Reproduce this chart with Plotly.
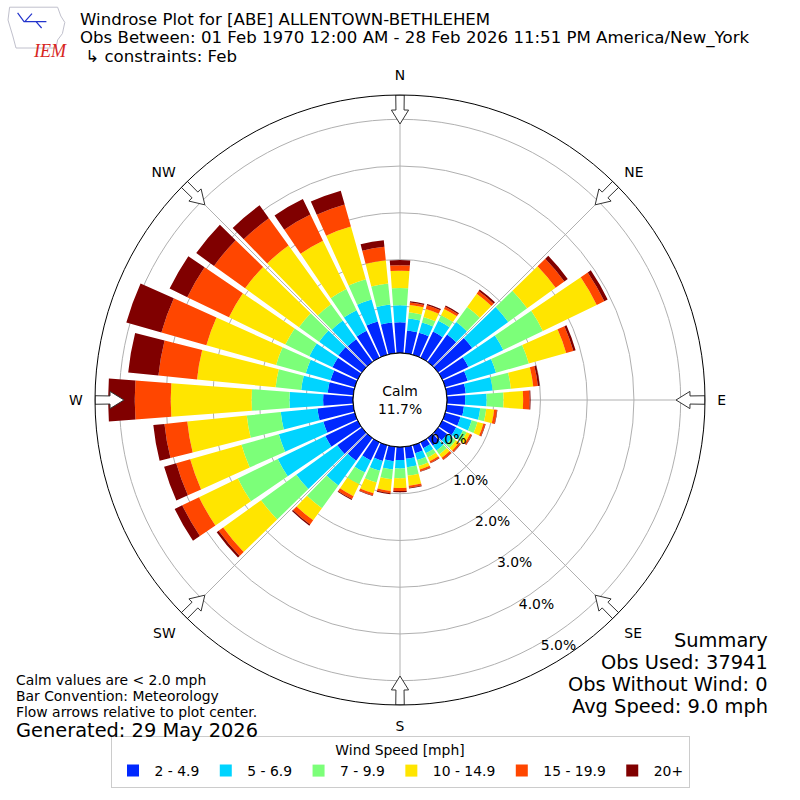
import plotly.graph_objects as go

# wind directions (deg, meteorological) and speed bins
directions = list(range(0, 360, 10))
compass_vals = [0, 45, 90, 135, 180, 225, 270, 315]
compass_text = ["N", "NE", "E", "SE", "S", "SW", "W", "NW"]

speed_labels = ["2 - 4.9", "5 - 6.9", "7 - 9.9", "10 - 14.9", "15 - 19.9", "20+"]
speed_colors = ["#0028ff", "#00d4ff", "#7cff79", "#ffe500", "#ff4600", "#800000"]

# percent of all obs, per direction, for each speed bin
pct_2 = [0.66, 0.49, 0.49, 0.62, 0.72, 0.90, 0.62, 0.50, 0.41, 0.39, 0.37, 0.34,
         0.33, 0.24, 0.20, 0.14, 0.18, 0.26, 0.28, 0.31, 0.35, 0.43, 0.60, 0.65,
         0.77, 0.70, 0.77, 0.64, 0.55, 0.54, 0.60, 0.62, 0.60, 0.64, 0.74, 0.66]
pct_5 = [0.36, 0.26, 0.23, 0.26, 0.33, 0.95, 0.83, 0.63, 0.58, 0.46, 0.35, 0.25,
         0.16, 0.13, 0.13, 0.12, 0.15, 0.18, 0.18, 0.18, 0.22, 0.29, 0.65, 1.08,
         1.13, 0.99, 0.79, 0.72, 0.57, 0.55, 0.55, 0.51, 0.49, 0.49, 0.49, 0.39]
pct_7 = [0.37, 0.13, 0.12, 0.13, 0.40, 0.50, 0.94, 0.73, 0.39, 0.36, 0.13, 0.13,
         0.09, 0.10, 0.10, 0.10, 0.13, 0.18, 0.21, 0.21, 0.26, 0.28, 0.60, 0.93,
         0.95, 0.83, 0.73, 0.81, 0.55, 0.66, 0.57, 0.53, 0.43, 0.50, 0.45, 0.45]
pct_10 = [0.37, 0.16, 0.18, 0.15, 0.35, 0.75, 1.28, 0.83, 0.48, 0.42, 0.17, 0.13,
          0.08, 0.08, 0.09, 0.09, 0.08, 0.22, 0.21, 0.25, 0.24, 0.28, 0.32, 1.00,
          0.92, 1.14, 1.28, 1.73, 1.69, 1.55, 1.34, 1.42, 1.55, 1.15, 1.17, 0.50]
pct_15 = [0.12, 0.05, 0.08, 0.05, 0.07, 0.23, 0.18, 0.16, 0.10, 0.14, 0.06, 0.04,
          0.04, 0.04, 0.05, 0.04, 0.04, 0.04, 0.06, 0.05, 0.05, 0.07, 0.11, 0.12,
          0.40, 0.31, 0.49, 0.77, 0.83, 1.00, 0.99, 0.82, 0.72, 0.62, 0.49, 0.29]
pct_20 = [0.11, 0.03, 0.03, 0.03, 0.04, 0.09, 0.08, 0.05, 0.04, 0.02, 0.01, 0.01,
          0.01, 0.01, 0.01, 0.01, 0.01, 0.02, 0.03, 0.02, 0.01, 0.02, 0.03, 0.05,
          0.18, 0.27, 0.24, 0.57, 0.65, 0.78, 0.42, 0.47, 0.34, 0.37, 0.31, 0.14]

series = [pct_2, pct_5, pct_7, pct_10, pct_15, pct_20]

radial_ticks = [0, 1, 2, 3, 4, 5]
radial_text = ["0.0%", "1.0%", "2.0%", "3.0%", "4.0%", "5.0%"]

calm_pct = "11.7%"
summary = ["Summary", "Obs Used: 37941", "Obs Without Wind: 0", "Avg Speed: 9.0 mph"]
notes = ["Calm values are < 2.0 mph", "Bar Convention: Meteorology",
         "Flow arrows relative to plot center."]

FONT = "DejaVu Sans"
RMAX = 5.52
RAX_ANGLE = -62

fig = go.Figure()

for vals, name, col in zip(series, speed_labels, speed_colors):
    fig.add_trace(go.Barpolar(
        r=vals, theta=directions, width=8.4, name=name,
        marker=dict(color=col, line=dict(width=0)),
    ))

# calm circle outline
fig.add_trace(go.Scatterpolar(
    r=[0] * 361, theta=list(range(361)), mode="lines",
    line=dict(color="black", width=1), showlegend=False, hoverinfo="skip",
))


# hollow flow arrows on the rim, pointing in toward the center
def arrow(theta):
    r = [RMAX, 5.2, 5.2, 4.9, 5.2, 5.2, RMAX, RMAX]
    t = [theta - 0.8, theta - 0.8, theta - 1.7, theta,
         theta + 1.7, theta + 0.8, theta + 0.8, theta - 0.8]
    return go.Scatterpolar(
        r=r, theta=t, mode="lines", fill="toself", fillcolor="white",
        line=dict(color="#333333", width=1), showlegend=False, hoverinfo="skip",
    )


for a in compass_vals:
    fig.add_trace(arrow(a))

ann = []
title_lines = ["Windrose Plot for [ABE] ALLENTOWN-BETHLEHEM",
               "Obs Between: 01 Feb 1970 12:00 AM - 28 Feb 2026 11:51 PM America/New_York",
               " ↳ constraints: Feb"]
for i, t in enumerate(title_lines):
    ann.append(dict(text=t, x=79 / 800, y=1 - (19 + 18.5 * i) / 800, xref="paper", yref="paper",
                    xanchor="left", yanchor="middle", showarrow=False, borderpad=0,
                    font=dict(family=FONT, size=16.6, color="black")))

for i, t in enumerate(summary):
    ann.append(dict(text=t, x=769 / 800, y=1 - (640 + 22 * i) / 800, xref="paper", yref="paper",
                    xanchor="right", yanchor="middle", showarrow=False, borderpad=0,
                    font=dict(family=FONT, size=19.4, color="black")))

for i, t in enumerate(notes):
    ann.append(dict(text=t, x=15 / 800, y=1 - (680 + 16 * i) / 800, xref="paper", yref="paper",
                    xanchor="left", yanchor="middle", showarrow=False, borderpad=0,
                    font=dict(family=FONT, size=13.9, color="black")))
ann.append(dict(text="Generated: 29 May 2026", x=15 / 800, y=1 - 730 / 800, xref="paper", yref="paper",
                xanchor="left", yanchor="middle", showarrow=False, borderpad=0,
                font=dict(family=FONT, size=19.4, color="black")))

ann.append(dict(text="Calm<br>" + calm_pct, x=0.5, y=0.5, xref="paper", yref="paper",
                showarrow=False, font=dict(family=FONT, size=13.9, color="black")))

# IEM logo
ann.append(dict(text="<i>IEM</i>", x=31 / 800, y=1 - 39 / 800, xref="paper", yref="paper",
                showarrow=False, font=dict(family="Liberation Serif", size=18, color="#d7261e")))

shapes = [
    dict(type="path", xref="paper", yref="paper", line=dict(color="#c0c0cc", width=1),
         path="M 0.012 0.991 L 0.072 0.991 L 0.076 0.980 L 0.081 0.972 L 0.078 0.958 "
              "L 0.072 0.950 L 0.070 0.940 L 0.020 0.940 L 0.016 0.955 L 0.010 0.975 Z"),
    dict(type="path", xref="paper", yref="paper", line=dict(color="#2233cc", width=1.2),
         path="M 0.022 0.984 L 0.030 0.973 L 0.058 0.973 M 0.031 0.973 L 0.040 0.983 "
              "M 0.045 0.973 L 0.052 0.965"),
]

fig.update_layout(
    width=800, height=800,
    margin=dict(l=0, r=0, t=0, b=0),
    paper_bgcolor="white",
    font=dict(family=FONT, size=13.9, color="black"),
    annotations=ann,
    shapes=shapes,
    polar=dict(
        domain=dict(x=[95 / 800, 705 / 800], y=[95 / 800, 705 / 800]),
        hole=0.154,
        bgcolor="white",
        barmode="stack",
        angularaxis=dict(
            rotation=90, direction="clockwise",
            tickmode="array", tickvals=compass_vals, ticktext=compass_text,
            showline=True, linecolor="black", linewidth=1,
            showgrid=True, gridcolor="#b0b0b0", gridwidth=1,
            ticks="outside", ticklen=9, tickcolor="rgba(0,0,0,0)", layer="above traces",
            tickfont=dict(family=FONT, size=13.9, color="black"),
        ),
        radialaxis=dict(
            range=[0, RMAX], tickmode="array", tickvals=radial_ticks, ticktext=radial_text,
            angle=RAX_ANGLE, tickangle=RAX_ANGLE, side="counterclockwise",
            showline=False, ticks="", showgrid=True, gridcolor="#b0b0b0", gridwidth=1,
            layer="above traces",
            tickfont=dict(family=FONT, size=13.9, color="black"),
        ),
    ),
    legend=dict(
        orientation="h", x=0.5, xanchor="center", y=12 / 800, yanchor="bottom",
        bordercolor="#cccccc", borderwidth=1, bgcolor="white",
        title=dict(text="Wind Speed [mph]", side="top center",
                   font=dict(family=FONT, size=13.9)),
        font=dict(family=FONT, size=13.9),
        itemwidth=33,
        traceorder="normal",
    ),
)

fig.write_html("out.html", config={"displayModeBar": False},
               post_script="document.body.style.margin='0px';")
